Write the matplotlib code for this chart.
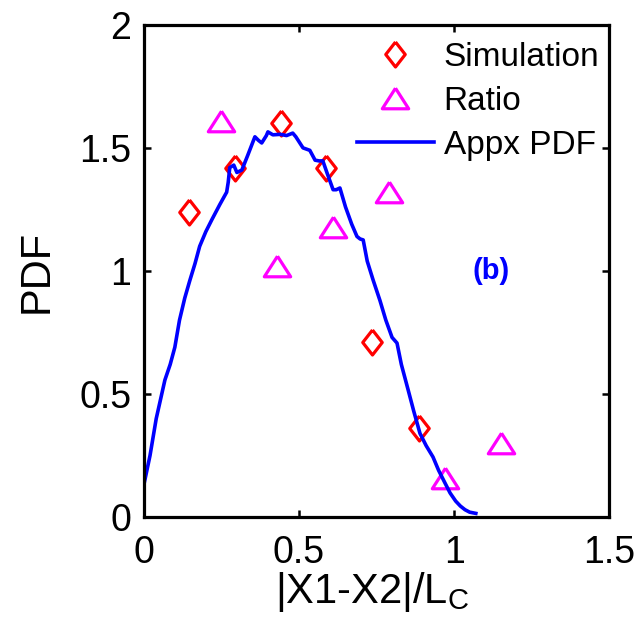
import matplotlib
matplotlib.use("Agg")
import matplotlib.pyplot as plt

# Simulated PDF points
sim_x = [0.147, 0.294, 0.441, 0.588, 0.737, 0.887]
sim_y = [1.24, 1.42, 1.60, 1.42, 0.71, 0.36]

# Ratio estimate points
ratio_x = [0.25, 0.43, 0.61, 0.79, 0.97, 1.15]
ratio_y = [1.61, 1.02, 1.18, 1.32, 0.16, 0.30]

# Approximate PDF curve
appx_x = [0.0, 0.02, 0.04, 0.068, 0.085, 0.1, 0.115, 0.132, 0.148, 0.165, 0.18,
          0.2, 0.22, 0.245, 0.267, 0.272, 0.277, 0.29, 0.30, 0.316, 0.335, 0.358,
          0.37, 0.38, 0.395, 0.40, 0.416, 0.44, 0.46, 0.48, 0.49, 0.513, 0.535,
          0.552, 0.565, 0.577, 0.59, 0.61, 0.62, 0.632, 0.65, 0.67, 0.687, 0.697,
          0.707, 0.72, 0.739, 0.761, 0.78, 0.80, 0.816, 0.83, 0.852, 0.87, 0.89,
          0.91, 0.932, 0.95, 0.97, 0.987, 1.005, 1.02, 1.035, 1.05, 1.07]
appx_y = [0.13, 0.25, 0.40, 0.557, 0.62, 0.69, 0.80, 0.89, 0.96, 1.03, 1.10,
          1.16, 1.21, 1.27, 1.32, 1.36, 1.42, 1.43, 1.40, 1.41, 1.47, 1.545,
          1.53, 1.52, 1.55, 1.565, 1.553, 1.555, 1.55, 1.56, 1.545, 1.50, 1.49,
          1.45, 1.447, 1.447, 1.40, 1.33, 1.33, 1.337, 1.26, 1.19, 1.14, 1.13,
          1.126, 1.04, 0.963, 0.88, 0.80, 0.73, 0.707, 0.62, 0.516, 0.43, 0.34,
          0.29, 0.244, 0.19, 0.14, 0.098, 0.065, 0.045, 0.03, 0.02, 0.015]

x_ticks = [0, 0.5, 1, 1.5]
y_ticks = [0, 0.5, 1, 1.5, 2]

plt.rcParams['font.family'] = ['Liberation Sans', 'DejaVu Sans']

fig = plt.figure(figsize=(6.42, 6.20), dpi=100)
ax = fig.add_axes([0.224, 0.166, 0.725, 0.794])

diamond = [(0, 1), (0.78, 0), (0, -1), (-0.78, 0), (0, 1)]
triangle = [(0, 0.78), (1, -0.78), (-1, -0.78), (0, 0.78)]

ax.plot(sim_x, sim_y, linestyle='none', marker=diamond, markersize=18,
        markerfacecolor='none', markeredgecolor='#ff0000', markeredgewidth=2.3,
        label='Simulation')
ax.plot(ratio_x, ratio_y, linestyle='none', marker=triangle, markersize=19,
        markerfacecolor='none', markeredgecolor='#ff00ff', markeredgewidth=2.3,
        label='Ratio')
ax.plot(appx_x, appx_y, color='#0000ff', linewidth=2.6, label='Appx PDF')

ax.text(1.12, 1.0, '(b)', color='#0000ff', fontsize=21, fontweight='bold',
        ha='center', va='center')

ax.set_xlim(0, 1.5)
ax.set_ylim(0, 2)
ax.set_xticks(x_ticks)
ax.set_yticks(y_ticks)
ax.set_xticklabels([f'{t:g}' for t in x_ticks])
ax.set_yticklabels([f'{t:g}' for t in y_ticks])
ax.tick_params(direction='in', top=True, right=True, length=5, width=1.8,
               labelsize=27)
ax.tick_params(axis='x', pad=13)
ax.tick_params(axis='y', pad=9)
for s in ax.spines.values():
    s.set_linewidth(2.3)

ax.set_xlabel('|X1-X2|/L$_\\mathregular{C}$', fontsize=30, va='center')
ax.xaxis.set_label_coords(0.49, -0.152)
ax.set_ylabel('PDF', fontsize=30, va='center')
ax.yaxis.set_label_coords(-0.23, 0.5)

ax.legend(loc='upper right', bbox_to_anchor=(1.0, 0.986), frameon=False,
          fontsize=24, handlelength=2.3, handletextpad=0.3, labelspacing=0.39,
          borderaxespad=0.0, borderpad=0.3)

fig.savefig('out.png', dpi=100)
